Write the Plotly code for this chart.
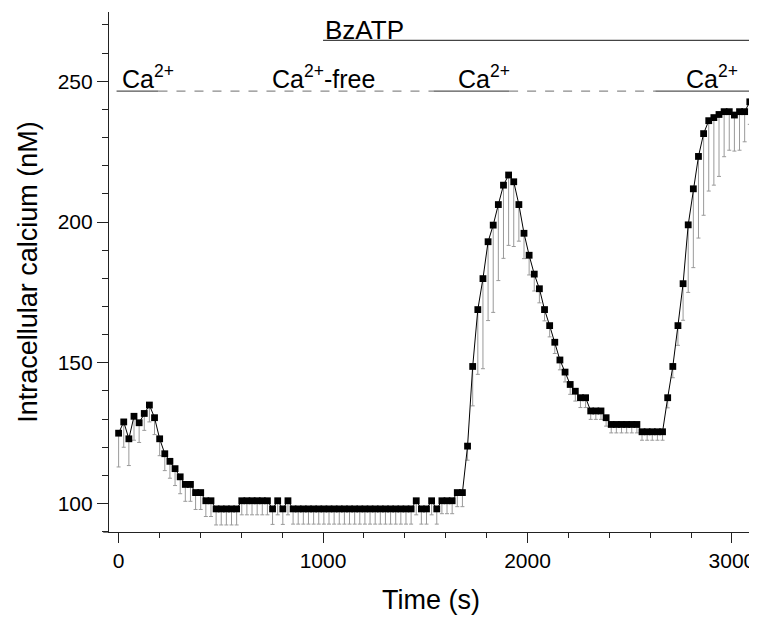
import numpy as np
import plotly.graph_objects as go

# sampling interval of the recording (s)
dt = 25.1

# intracellular calcium (nM), one value per sample
conc = [125, 129, 123, 131, 128.7, 132, 135, 130.5, 123, 117.7,
        115, 112.4, 109.5, 106.8, 106.8, 103.9, 103.9, 101, 101, 98.1,
        98.1, 98.1, 98.1, 98.1, 101, 101, 101, 101, 101, 101,
        98.1, 101, 98.1, 101,
        98.1, 98.1, 98.1, 98.1, 98.1, 98.1, 98.1, 98.1, 98.1, 98.1, 98.1, 98.1,
        98.1, 98.1, 98.1, 98.1, 98.1, 98.1, 98.1, 98.1, 98.1, 98.1, 98.1, 98.1,
        101, 98.1, 98.1, 101, 98.1, 101, 101, 101, 103.9, 103.9,
        120.4, 148.7, 168.9, 179.9, 193, 198.9, 206.2, 213.1, 216.7, 214.3,
        206.2, 196, 188.2, 181.5, 176.3, 168.9, 163.2, 157.3, 151, 146.7,
        142.3, 139.9, 137.6, 137.6, 132.9, 132.9, 132.9, 130.5,
        128.1, 128.1, 128.1, 128.1, 128.1, 128.1,
        125.5, 125.5, 125.5, 125.5, 125.5,
        137.6, 148.7, 163.2, 178.1, 199, 211.8, 223.3, 231.4, 236, 237.1,
        238.2, 239.2, 239.2, 238, 239.2, 239.2, 242.7]

# lower error (nM)
err_minus = [12, 9, 9.5, 8.5, 7, 6, 6, 6, 6, 6,
             6, 6, 6, 6, 6, 6, 6, 5.6, 5.6, 5.7,
             5.7, 5.7, 5.7, 5.7, 5, 5, 5, 5, 5, 5,
             5.5, 5, 5.5, 5,
             5.4, 5.4, 5.4, 5.4, 5.4, 5.4, 5.4, 5.4, 5.4, 5.4, 5.4, 5.4,
             5.4, 5.4, 5.4, 5.4, 5.4, 5.4, 5.4, 5.4, 5.4, 5.4, 5.4, 5.4,
             5, 5.4, 5.4, 5, 5.4, 4.6, 4.6, 4.6, 5, 5,
             5, 14, 23, 32, 28, 31, 27, 26, 25, 23,
             13, 9, 7, 6, 5, 4, 4, 4, 3.5, 3.5,
             3.5, 3.5, 3.5, 3.5, 3, 3, 3, 3,
             3, 3, 3, 3, 3, 3,
             3, 3, 3, 3, 3,
             3.6, 4, 7, 13, 24, 28, 29, 29, 25, 24,
             22, 16, 13.7, 12.8, 13.7, 10.7, 8]

time = np.arange(len(conc)) * dt

# solution bars above the trace
ca_level = 246.5
bz_level = 264.5
bz_start, bz_end = 1000, 3120
ca_segments = [(-10, 195, 'solid'), (195, 1540, 'dash'), (1540, 1910, 'solid'),
               (1910, 2625, 'dash'), (2625, 3108, 'solid')]
ca_labels = [(6, 'Ca<sup>2+</sup>'), (740, 'Ca<sup>2+</sup>-free'),
             (1650, 'Ca<sup>2+</sup>'), (2764, 'Ca<sup>2+</sup>')]

FONT = "Liberation Sans, Arial, sans-serif"

fig = go.Figure()
fig.add_trace(go.Scatter(
    x=time, y=conc, mode='lines+markers',
    line=dict(color='black', width=1),
    marker=dict(symbol='square', size=6.8, color='black'),
    error_y=dict(type='data', symmetric=False, array=[0] * len(conc),
                 arrayminus=err_minus, color='#9a9a9a', thickness=1, width=2),
    showlegend=False,
))

shapes = []
for x0, x1, style in ca_segments:
    shapes.append(dict(type='line', xref='x', yref='y', x0=x0, x1=x1, y0=ca_level, y1=ca_level,
                       line=dict(color='#555555' if style == 'solid' else '#8a8a8a', width=1.3, dash=style)))
shapes.append(dict(type='line', xref='x', yref='y', x0=bz_start, x1=bz_end, y0=bz_level, y1=bz_level,
                   line=dict(color='#444444', width=1.3)))
# x axis line sticks out a little left of the y axis
shapes.append(dict(type='line', xref='paper', yref='paper', x0=-0.009, x1=0, y0=0, y1=0,
                   line=dict(color='#222222', width=1.2)))

annotations = []
for x0, txt in ca_labels:
    annotations.append(dict(x=x0, y=ca_level, xref='x', yref='y', text=txt, showarrow=False,
                            xanchor='left', yanchor='bottom', yshift=-4,
                            font=dict(family=FONT, size=25, color='black')))
annotations.append(dict(x=bz_start, y=bz_level, xref='x', yref='y', text='BzATP', showarrow=False,
                        xanchor='left', yanchor='bottom', yshift=-7,
                        font=dict(family=FONT, size=26, color='black')))

# page body has an 8px margin, so the figure is 8px smaller than the window
fig.update_layout(
    width=749, height=609,
    margin=dict(l=101, r=4, t=4, b=85, autoexpand=False),
    plot_bgcolor='white', paper_bgcolor='white',
    font=dict(family=FONT, color='black'),
    shapes=shapes, annotations=annotations,
    xaxis=dict(range=[-47, 3103], showgrid=False, zeroline=False, automargin=False,
               showline=True, linecolor='#222222', linewidth=1.2,
               tickmode='array', tickvals=[0, 1000, 2000, 3000],
               ticks='outside', ticklen=10, tickwidth=1.2, tickcolor='#222222',
               minor=dict(dtick=200, ticks='outside', ticklen=5, tickwidth=1.2, tickcolor='#222222'),
               tickfont=dict(size=21),
               title=dict(text='Time (s)', font=dict(size=27), standoff=18)),
    yaxis=dict(range=[89.9, 274.6], showgrid=False, zeroline=False, automargin=False,
               showline=True, linecolor='#222222', linewidth=1.2,
               tickmode='array', tickvals=[100, 150, 200, 250],
               ticks='outside', ticklen=11, tickwidth=1.2, tickcolor='#222222',
               minor=dict(dtick=10, ticks='outside', ticklen=6, tickwidth=1.2, tickcolor='#222222'),
               tickfont=dict(size=21),
               title=dict(text='Intracellular calcium (nM)', font=dict(size=27), standoff=12)),
)

fig.write_html("out.html")
